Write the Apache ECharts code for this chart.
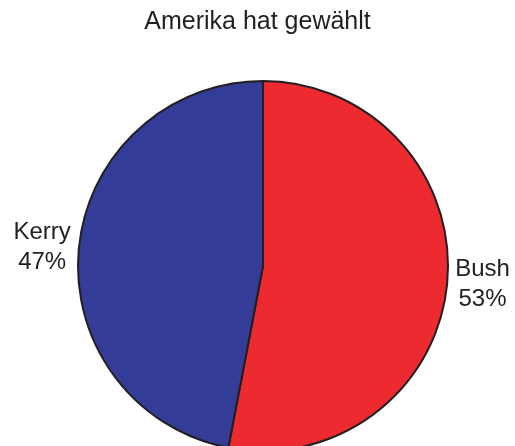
<!DOCTYPE html>
<html>
<head>
<meta charset="utf-8">
<style>
  html, body { margin: 0; padding: 0; background: #fff; }
  #chart { width: 515px; height: 446px; }
</style>
<script src="https://cdn.jsdelivr.net/npm/echarts@6/dist/echarts.min.js"></script>
</head>
<body>
<div id="chart"></div>
<script>
const candidates = ['Bush', 'Kerry']
const shares = [53, 47]
const colors = ['#ED2A2F', '#333C96']

const chart = echarts.init(document.getElementById('chart'))
chart.setOption({
  animation: false,
  color: colors,
  title: {
    text: 'Amerika hat gewählt',
    left: 'center',
    top: 5,
    textStyle: {
      color: '#231F20',
      fontFamily: 'Liberation Sans',
      fontSize: 25,
      fontWeight: 'normal'
    }
  },
  series: [
    {
      type: 'pie',
      center: [263, 266],
      radius: 185,
      startAngle: 90,
      clockwise: true,
      avoidLabelOverlap: false,
      itemStyle: {
        borderColor: '#231F20',
        borderWidth: 2
      },
      label: {
        show: true,
        position: 'outside',
        formatter: '{b}\n{c}%',
        color: '#231F20',
        fontFamily: 'Liberation Sans',
        fontSize: 24,
        lineHeight: 30,
        distanceToLabelLine: 0
      },
      labelLine: {
        show: false,
        length: 8,
        length2: 0
      },
      labelLayout: function (params) {
        const r = params.labelRect
        return {
          x: r.x + r.width / 2,
          y: r.y + r.height / 2,
          align: 'center',
          verticalAlign: 'middle'
        }
      },
      emphasis: { disabled: true },
      data: candidates.map((name, i) => ({ name: name, value: shares[i] }))
    }
  ]
})
</script>
</body>
</html>
